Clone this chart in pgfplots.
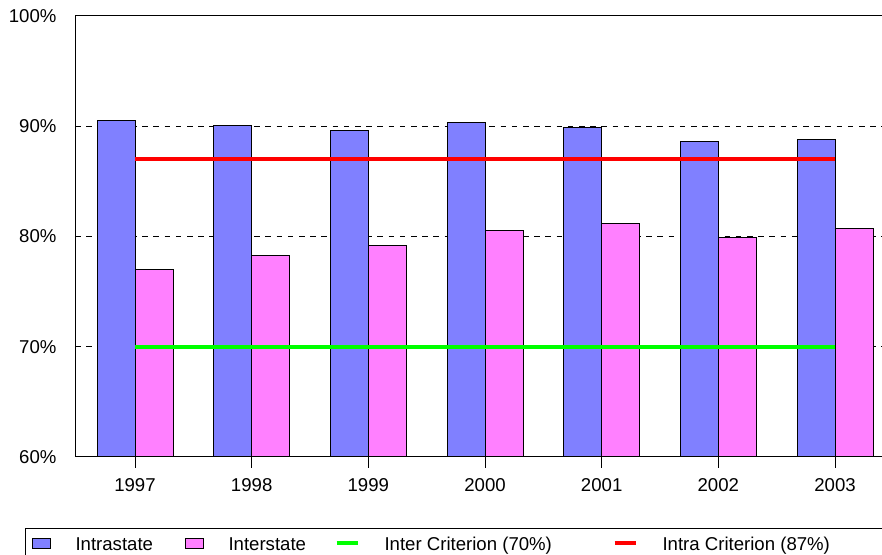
\documentclass[border=0pt]{standalone}
\usepackage{pgfplots}
\pgfplotsset{compat=1.18}
\usepackage{fontspec}
\setmainfont{Liberation Sans}
\definecolor{intra}{RGB}{128,128,255}
\definecolor{inter}{RGB}{255,128,255}
\definecolor{critgreen}{RGB}{0,255,0}
\definecolor{critred}{RGB}{255,0,0}
\begin{document}
\fontsize{9.3pt}{11pt}\selectfont
\begin{tikzpicture}
\begin{axis}[
    scale only axis,
    width=405pt, height=220.5pt,
    xmin=1996.4857, xmax=2003.4286,
    ymin=60, ymax=100,
    xtick={1997,1998,1999,2000,2001,2002,2003},
    xticklabels={1997,1998,1999,2000,2001,2002,2003},
    ytick={60,70,80,90,100},
    yticklabels={60\%,70\%,80\%,90\%,100\%},
    /pgf/number format/assume math mode=true,
    axis line style={line width=0.5pt},
    x tick style={black, line width=0.5pt},
    xtick pos=bottom, tick align=outside,
    major tick length=5.5pt,
    ytick style={draw=none},
    xticklabel style={yshift=-2pt},
    yticklabel style={xshift=-0.5pt},
    extra y ticks={70,80,90},
    extra y tick labels={},
    extra y tick style={ymajorgrids=true, major tick length=0pt, tick style={draw=none}},
    grid style={black, line width=0.4pt, dash pattern=on 2.8pt off 2.8pt},
    legend columns=4,
    legend style={at={(axis description cs:-0.0617,-0.161)}, anchor=north west,
        draw=black, line width=0.5pt, inner xsep=3pt, inner ysep=4.2pt,
        nodes={inner sep=0pt, text height=6.6pt, text depth=0pt},
        /tikz/every odd column/.append style={column sep=12.5pt}},
]
\addplot[ybar, bar width=19pt, bar shift=-9.5pt, fill=intra, draw=black, line width=0.5pt,
    legend image code/.code={\draw[fill=intra, draw=black, line width=0.5pt] (0pt,-2.7pt) rectangle (9pt,2.7pt);}]
    coordinates {(1997,90.5) (1998,90.1) (1999,89.6) (2000,90.3) (2001,89.9) (2002,88.6) (2003,88.8)};
\addlegendentry{\makebox[54.5pt][l]{Intrastate}}
\addplot[ybar, bar width=19pt, bar shift=9.5pt, fill=inter, draw=black, line width=0.5pt,
    legend image code/.code={\draw[fill=inter, draw=black, line width=0.5pt] (0pt,-2.7pt) rectangle (9pt,2.7pt);}]
    coordinates {(1997,77.05) (1998,78.3) (1999,79.2) (2000,80.5) (2001,81.2) (2002,79.9) (2003,80.75)};
\addlegendentry{\makebox[53pt][l]{Interstate}}
\addplot[sharp plot, critgreen, line width=2pt, mark=none,
    legend image code/.code={\draw[critgreen, line width=2pt] (0pt,0pt) -- (10.5pt,0pt);}]
    coordinates {(1997,70) (2003,70)};
\addlegendentry{\makebox[114pt][l]{Inter Criterion (70\%)}}
\addplot[sharp plot, critred, line width=2pt, mark=none,
    legend image code/.code={\draw[critred, line width=2pt] (0pt,0pt) -- (10.5pt,0pt);}]
    coordinates {(1997,87) (2003,87)};
\addlegendentry{\makebox[120pt][l]{Intra Criterion (87\%)}}
\end{axis}
\pgfresetboundingbox
\path (-37.5pt,-49pt) rectangle (403.5pt,228.5pt);
\end{tikzpicture}
\end{document}
